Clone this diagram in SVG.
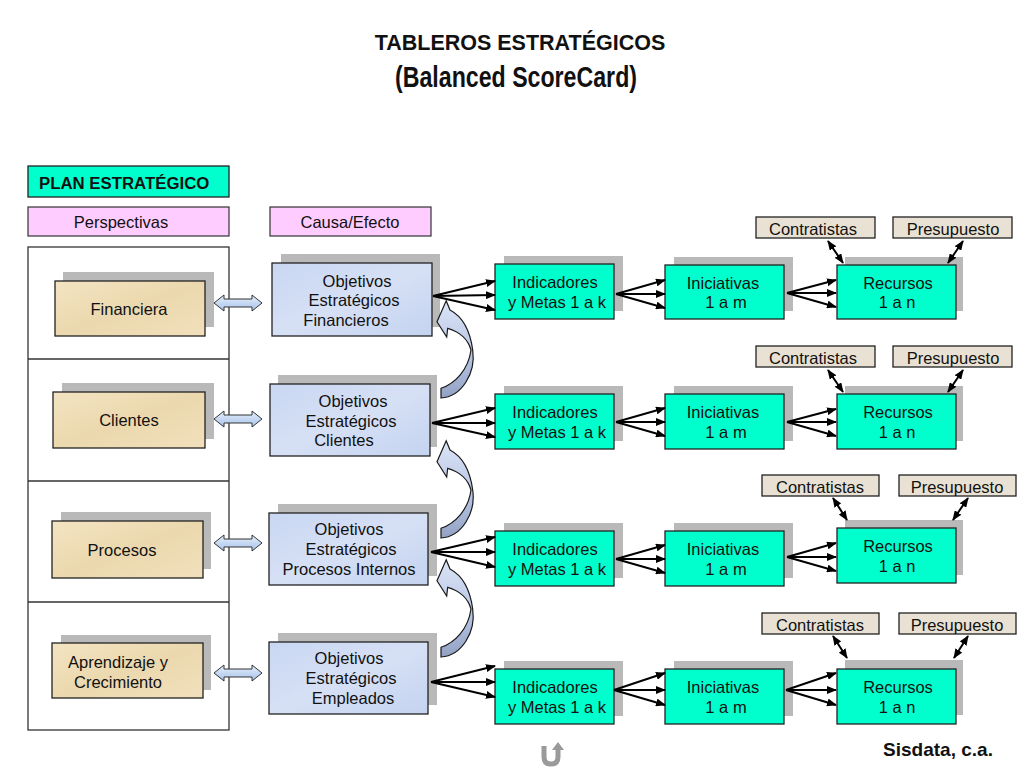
<svg xmlns="http://www.w3.org/2000/svg" width="1024" height="768" viewBox="0 0 1024 768">
<style>
text{font-family:"Liberation Sans",Arial,sans-serif;fill:#111;}
.t{font-size:16.5px;text-anchor:middle;}
.sh{fill:#B9B9B9;}
.teal{fill:#00FFCC;stroke:#222;stroke-width:1.3;}
.pink{fill:#FFCCFF;stroke:#333;stroke-width:1.2;}
.tan{fill:url(#gTan);stroke:#222;stroke-width:1.3;}
.obj{fill:url(#gObj);stroke:#222;stroke-width:1.3;}
.beige{fill:#E9E1D3;stroke:#222;stroke-width:1.3;}
.fan line,.dbl line{stroke:#000;stroke-width:2;}
.fan line{marker-end:url(#ah);}
.dbl line{marker-end:url(#ah);marker-start:url(#ah);}
.blk{fill:url(#gBlk);stroke:#333;stroke-width:1;}
.curv{fill:url(#gCurv);stroke:#1a1a1a;stroke-width:1.2;}
</style>
<defs>
<marker id="ah" viewBox="0 0 10 8" refX="9" refY="4" markerWidth="10" markerHeight="8" markerUnits="userSpaceOnUse" orient="auto-start-reverse">
<path d="M0,0 L10,4 L0,8 z" fill="#000"/>
</marker>
<linearGradient id="gTan" x1="0" y1="0" x2="1" y2="1">
<stop offset="0" stop-color="#F3E4C2"/><stop offset="0.5" stop-color="#EBD8AE"/><stop offset="1" stop-color="#F1E0BC"/>
</linearGradient>
<linearGradient id="gObj" x1="0" y1="0" x2="1" y2="1">
<stop offset="0" stop-color="#C9D7F2"/><stop offset="0.5" stop-color="#D6E0F5"/><stop offset="1" stop-color="#C4D3F0"/>
</linearGradient>
<linearGradient id="gBlk" x1="0" y1="0" x2="0" y2="1">
<stop offset="0" stop-color="#E4EEFB"/><stop offset="1" stop-color="#A8C3EA"/>
</linearGradient>
<linearGradient id="gCurv" x1="0" y1="0" x2="0" y2="1">
<stop offset="0" stop-color="#DCE5F7"/><stop offset="0.6" stop-color="#B4C2E2"/><stop offset="1" stop-color="#93A1C4"/>
</linearGradient>
<path id="blkArrow" d="M0,0 L10,-8 L10,-4 L38,-4 L38,-8 L48,0 L38,8 L38,4 L10,4 L10,8 Z"/>
<path id="curvArrow" d="M441,398 C461.7,396.7 476,373.3 472.7,350 C470,330 462.7,316.7 450,310 L446.2,300.7 L437,321.7 L446.7,337 L447.7,328.3 C460,331.7 468.3,340 471,350 C468.3,370 455,383.3 441,388.3 Z"/>
</defs>
<rect width="1024" height="768" fill="#fff"/>

<g id="title">
<text x="520" y="50" style="font-size:21.5px;font-weight:bold;text-anchor:middle">TABLEROS ESTRATÉGICOS</text>
<text x="516" y="87" style="font-size:29px;font-weight:bold;text-anchor:middle" textLength="242" lengthAdjust="spacingAndGlyphs">(Balanced ScoreCard)</text>
</g>

<g id="plan">
<rect x="28" y="166" width="201" height="31" class="teal"/>
<text x="39" y="189" style="font-size:16.8px;font-weight:bold">PLAN ESTRATÉGICO</text>
</g>
<g id="perspectivas">
<rect x="28" y="207" width="201" height="29" class="pink"/>
<text x="121" y="228" class="t">Perspectivas</text>
</g>
<g id="causa">
<rect x="270" y="207" width="161" height="29" class="pink"/>
<text x="350" y="228" class="t">Causa/Efecto</text>
</g>

<g id="container">
<rect x="28" y="247" width="201" height="483" fill="none" stroke="#333" stroke-width="1.3"/>
<line x1="28" y1="359" x2="229" y2="359" stroke="#333" stroke-width="1.3"/>
<line x1="28" y1="481" x2="229" y2="481" stroke="#333" stroke-width="1.3"/>
<line x1="28" y1="602" x2="229" y2="602" stroke="#333" stroke-width="1.3"/>
</g>

<g id="financiera">
<rect x="63" y="272" width="151" height="55" class="sh"/>
<rect x="55" y="281" width="150" height="55" class="tan"/>
<text x="129" y="315" class="t">Financiera</text>
</g>
<g id="clientes">
<rect x="62" y="383" width="152" height="56" class="sh"/>
<rect x="53" y="392" width="152" height="56" class="tan"/>
<text x="129" y="426" class="t">Clientes</text>
</g>
<g id="procesos">
<rect x="61" y="512" width="150" height="57" class="sh"/>
<rect x="52" y="521" width="151" height="57" class="tan"/>
<text x="122" y="556" class="t">Procesos</text>
</g>
<g id="aprendizaje">
<rect x="61" y="635" width="150" height="55" class="sh"/>
<rect x="52" y="643" width="151" height="55" class="tan"/>
<text x="118" y="668" class="t">Aprendizaje y</text>
<text x="118" y="688" class="t">Crecimiento</text>
</g>

<g id="obj-financieros">
<rect x="281" y="254" width="159" height="73" class="sh"/>
<rect x="272" y="263" width="160" height="73" class="obj"/>
<text x="357" y="287" class="t">Objetivos</text>
<text x="354" y="306" class="t">Estratégicos</text>
<text x="346" y="326" class="t">Financieros</text>
</g>
<g id="obj-clientes">
<rect x="278" y="375" width="159" height="72" class="sh"/>
<rect x="270" y="384" width="160" height="72" class="obj"/>
<text x="353" y="407" class="t">Objetivos</text>
<text x="351" y="427" class="t">Estratégicos</text>
<text x="344" y="446" class="t">Clientes</text>
</g>
<g id="obj-procesos">
<rect x="278" y="504" width="159" height="72" class="sh"/>
<rect x="269" y="513" width="159" height="72" class="obj"/>
<text x="349" y="535" class="t">Objetivos</text>
<text x="351" y="555" class="t">Estratégicos</text>
<text x="349" y="575" class="t">Procesos Internos</text>
</g>
<g id="obj-empleados">
<rect x="278" y="633" width="159" height="72" class="sh"/>
<rect x="269" y="642" width="159" height="72" class="obj"/>
<text x="349" y="664" class="t">Objetivos</text>
<text x="351" y="684" class="t">Estratégicos</text>
<text x="353" y="704" class="t">Empleados</text>
</g>

<!-- row 1 -->
<g id="ind1"><rect x="504" y="256" width="119" height="55" class="sh"/><rect x="495" y="264" width="119" height="55" class="teal"/><text x="555" y="288" class="t">Indicadores</text><text x="557" y="308" class="t">y Metas 1 a k</text></g>
<g id="ini1"><rect x="674" y="257" width="119" height="54" class="sh"/><rect x="665" y="265" width="119" height="54" class="teal"/><text x="723" y="289" class="t">Iniciativas</text><text x="726" y="308" class="t">1 a m</text></g>
<g id="rec1"><rect x="845" y="257" width="118" height="54" class="sh"/><rect x="837" y="265" width="119" height="54" class="teal"/><text x="898" y="289" class="t">Recursos</text><text x="897" y="308" class="t">1 a n</text></g>
<g id="con1"><rect x="756" y="217" width="119" height="21" class="beige"/><text x="813" y="235" class="t">Contratistas</text></g>
<g id="pre1"><rect x="893" y="217" width="119" height="21" class="beige"/><text x="953" y="235" class="t">Presupuesto</text></g>

<!-- row 2 -->
<g id="ind2"><rect x="504" y="386" width="119" height="55" class="sh"/><rect x="495" y="394" width="119" height="55" class="teal"/><text x="555" y="418" class="t">Indicadores</text><text x="557" y="438" class="t">y Metas 1 a k</text></g>
<g id="ini2"><rect x="674" y="386" width="119" height="55" class="sh"/><rect x="665" y="394" width="119" height="55" class="teal"/><text x="723" y="418" class="t">Iniciativas</text><text x="726" y="438" class="t">1 a m</text></g>
<g id="rec2"><rect x="845" y="386" width="118" height="55" class="sh"/><rect x="837" y="394" width="119" height="55" class="teal"/><text x="898" y="418" class="t">Recursos</text><text x="897" y="438" class="t">1 a n</text></g>
<g id="con2"><rect x="756" y="346" width="119" height="21" class="beige"/><text x="813" y="364" class="t">Contratistas</text></g>
<g id="pre2"><rect x="893" y="346" width="119" height="21" class="beige"/><text x="953" y="364" class="t">Presupuesto</text></g>

<!-- row 3 -->
<g id="ind3"><rect x="504" y="523" width="119" height="55" class="sh"/><rect x="495" y="531" width="119" height="55" class="teal"/><text x="555" y="555" class="t">Indicadores</text><text x="557" y="575" class="t">y Metas 1 a k</text></g>
<g id="ini3"><rect x="674" y="523" width="119" height="55" class="sh"/><rect x="665" y="531" width="119" height="55" class="teal"/><text x="723" y="555" class="t">Iniciativas</text><text x="726" y="575" class="t">1 a m</text></g>
<g id="rec3"><rect x="845" y="520" width="118" height="55" class="sh"/><rect x="837" y="528" width="119" height="55" class="teal"/><text x="898" y="552" class="t">Recursos</text><text x="897" y="572" class="t">1 a n</text></g>
<g id="con3"><rect x="762" y="475" width="117" height="21" class="beige"/><text x="820" y="493" class="t">Contratistas</text></g>
<g id="pre3"><rect x="899" y="475" width="117" height="21" class="beige"/><text x="957" y="493" class="t">Presupuesto</text></g>

<!-- row 4 -->
<g id="ind4"><rect x="504" y="661" width="119" height="55" class="sh"/><rect x="495" y="669" width="119" height="55" class="teal"/><text x="555" y="693" class="t">Indicadores</text><text x="557" y="713" class="t">y Metas 1 a k</text></g>
<g id="ini4"><rect x="674" y="661" width="119" height="55" class="sh"/><rect x="665" y="669" width="119" height="55" class="teal"/><text x="723" y="693" class="t">Iniciativas</text><text x="726" y="713" class="t">1 a m</text></g>
<g id="rec4"><rect x="845" y="660" width="118" height="55" class="sh"/><rect x="837" y="669" width="119" height="55" class="teal"/><text x="898" y="693" class="t">Recursos</text><text x="897" y="713" class="t">1 a n</text></g>
<g id="con4"><rect x="762" y="613" width="117" height="21" class="beige"/><text x="820" y="631" class="t">Contratistas</text></g>
<g id="pre4"><rect x="899" y="613" width="117" height="21" class="beige"/><text x="957" y="631" class="t">Presupuesto</text></g>

<g id="connectors">
<g id="blockArrows">
<use href="#blkArrow" class="blk" transform="translate(214,303)"/>
<use href="#blkArrow" class="blk" transform="translate(214,419)"/>
<use href="#blkArrow" class="blk" transform="translate(214,543)"/>
<use href="#blkArrow" class="blk" transform="translate(214,673)"/>
</g>
<g id="curvedArrows">
<use href="#curvArrow" class="curv"/>
<use href="#curvArrow" class="curv" transform="translate(0,140)"/>
<use href="#curvArrow" class="curv" transform="translate(0,259)"/>
</g>
<g class="fan">
<line x1="433" y1="296" x2="495" y2="281"/><line x1="433" y1="296" x2="495" y2="295"/><line x1="433" y1="296" x2="495" y2="310"/>
<line x1="616" y1="294" x2="665" y2="280"/><line x1="616" y1="294" x2="665" y2="294"/><line x1="616" y1="294" x2="665" y2="308"/>
<line x1="787" y1="293" x2="836" y2="280"/><line x1="787" y1="293" x2="836" y2="293"/><line x1="787" y1="293" x2="836" y2="307"/>

<line x1="432" y1="423" x2="495" y2="408"/><line x1="432" y1="423" x2="495" y2="423"/><line x1="432" y1="423" x2="495" y2="437"/>
<line x1="616" y1="422" x2="665" y2="408"/><line x1="616" y1="422" x2="665" y2="422"/><line x1="616" y1="422" x2="665" y2="436"/>
<line x1="787" y1="422" x2="836" y2="409"/><line x1="787" y1="422" x2="836" y2="422"/><line x1="787" y1="422" x2="836" y2="436"/>

<line x1="431" y1="552" x2="495" y2="537"/><line x1="431" y1="552" x2="495" y2="552"/><line x1="431" y1="552" x2="495" y2="567"/>
<line x1="616" y1="559" x2="665" y2="545"/><line x1="616" y1="559" x2="665" y2="559"/><line x1="616" y1="559" x2="665" y2="573"/>
<line x1="787" y1="557" x2="836" y2="543"/><line x1="787" y1="557" x2="836" y2="557"/><line x1="787" y1="557" x2="836" y2="571"/>

<line x1="431" y1="682" x2="495" y2="666"/><line x1="431" y1="682" x2="495" y2="682"/><line x1="431" y1="682" x2="495" y2="697"/>
<line x1="614" y1="690" x2="665" y2="673"/><line x1="614" y1="690" x2="665" y2="690"/><line x1="614" y1="690" x2="665" y2="705"/>
<line x1="786" y1="690" x2="836" y2="673"/><line x1="786" y1="690" x2="836" y2="690"/><line x1="786" y1="690" x2="836" y2="705"/>
</g>
<g class="dbl">
<line x1="828" y1="241" x2="843" y2="263"/><line x1="963" y1="241" x2="948" y2="263"/>
<line x1="828" y1="370" x2="843" y2="392"/><line x1="963" y1="370" x2="948" y2="392"/>
<line x1="833" y1="498" x2="847" y2="520"/><line x1="968" y1="498" x2="953" y2="520"/>
<line x1="833" y1="636" x2="847" y2="658"/><line x1="968" y1="636" x2="954" y2="658"/>
</g>
</g>

<g id="undo">
<path d="M544,746 L544,757 Q544,764 551,764 Q558,764 558,757 L558,749" fill="none" stroke="#9A9A9A" stroke-width="5"/>
<path d="M552,750 L558,742 L564,750 Z" fill="#9A9A9A"/>
</g>
<g id="footer">
<text x="938" y="756" style="font-size:19px;font-weight:bold;text-anchor:middle">Sisdata, c.a.</text>
</g>
</svg>
